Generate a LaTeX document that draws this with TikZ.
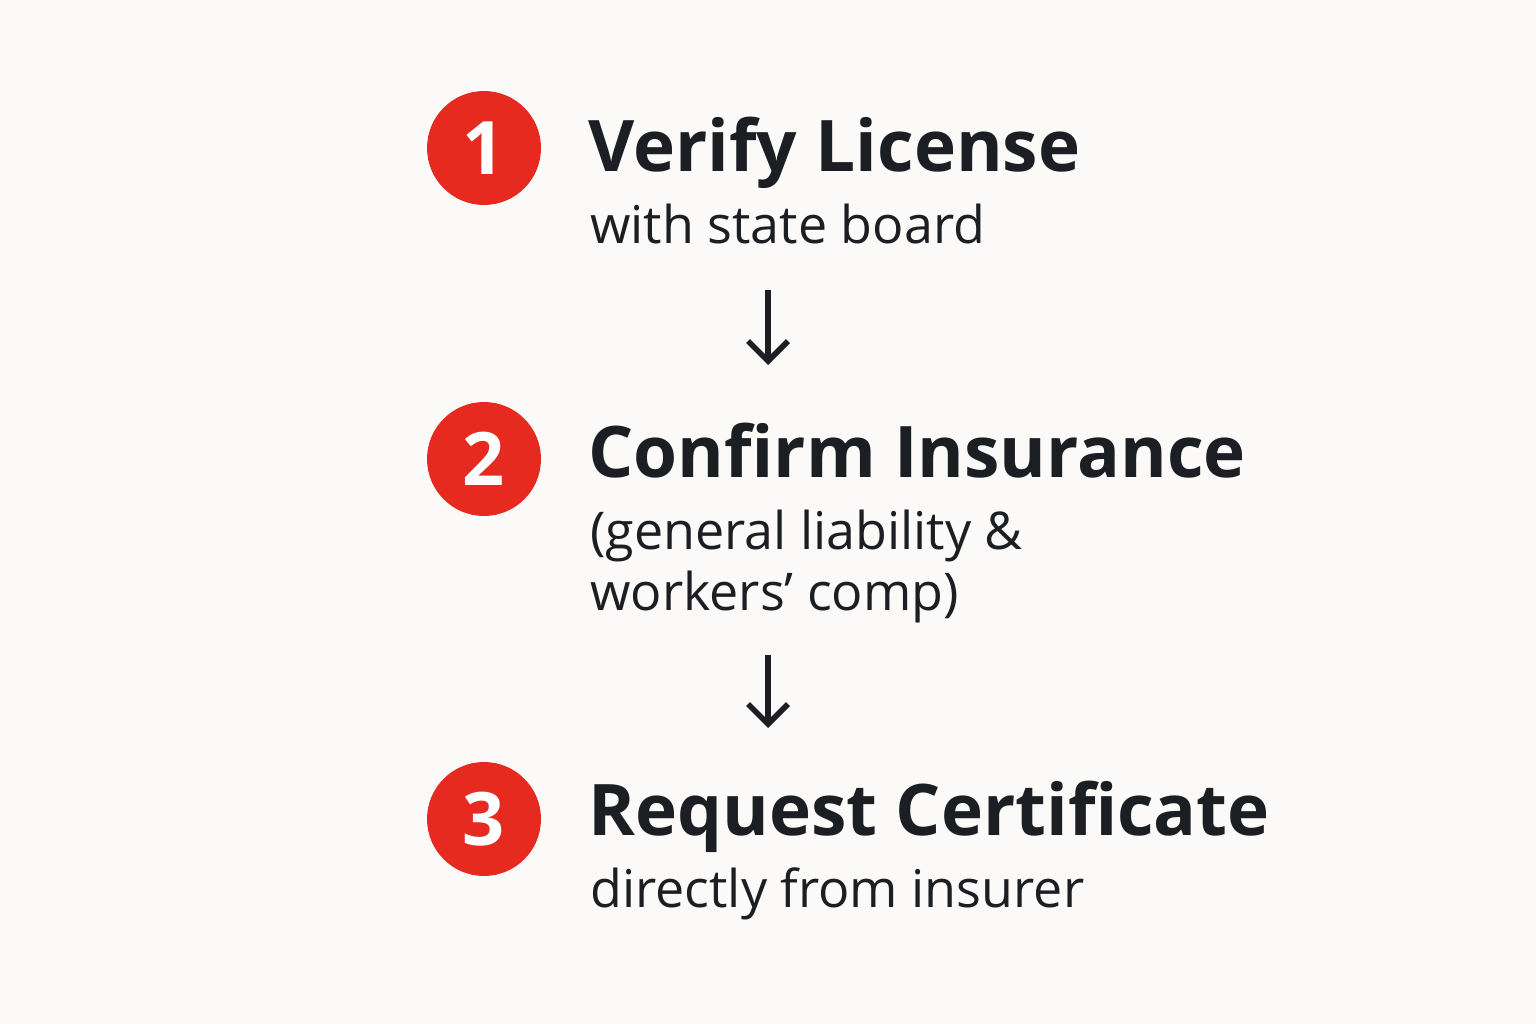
\documentclass[tikz,border=0pt]{standalone}
\usepackage{fontspec}
\setmainfont{Open Sans}
\usetikzlibrary{arrows.meta,positioning}
\definecolor{paper}{HTML}{FBFAF8}
\definecolor{badge}{HTML}{E62A20}
\definecolor{ink}{HTML}{1B1E22}

\begin{document}
\begin{tikzpicture}[x=0.02cm,y=-0.02cm]
\tikzstyle{every node}=[inner sep=0pt, text=ink]
\tikzstyle{num}=[circle, fill=badge, minimum size=2.28cm, text=white, font=\fontsize{42}{42}\selectfont\bfseries]
\tikzstyle{head}=[anchor=base west, font=\fontsize{40.5}{44}\selectfont\bfseries]
\tikzstyle{sub}=[anchor=base west, font=\fontsize{29.6}{34.2}\selectfont, align=left]
\tikzset{step arrow/.style={draw=ink, line width=3.2pt, arrows={-Straight Barb[length=0.4cm, width=0.8cm, line width=3.2pt]}}}
\fill[paper] (0,0) rectangle (1536,1024);
\useasboundingbox (0,0) rectangle (1536,1024);
\node [num] (ONE) at (484,148) {1};
\node [head] (LICENSE) at (588,172) {Verify License};
\node [sub] (BOARD) at (590,243) {with state board};
\node [num] (TWO) at (484,459) {2};
\node [head] (INSURANCE) at (588,477) {Confirm Insurance};
\node [sub] (COVER) at (590,610) {(general liability \&\\workers’ comp)};
\node [num] (THREE) at (484,819) {3};
\node [head] (CERT) at (588,835) {Request Certificate};
\node [sub] (INSURER) at (590,907) {directly from insurer};
\coordinate (A1) at (768,290);
\coordinate (B1) at (768,365);
\coordinate (A2) at (768,655);
\coordinate (B2) at (768,728);
\draw [step arrow] (A1) -- (B1);
\draw [step arrow] (A2) -- (B2);
\end{tikzpicture}
\end{document}
